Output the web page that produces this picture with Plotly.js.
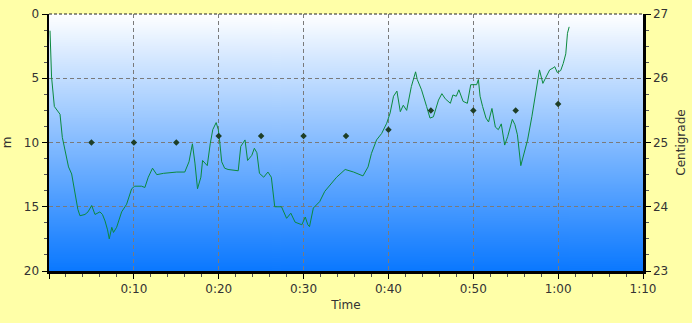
<!DOCTYPE html>
<html>
<head>
<meta charset="utf-8">
<script src="https://cdn.plot.ly/plotly-3.0.1.min.js"></script>
<style>html,body{margin:0;padding:0;background:#FFFFA8;}#chart{width:692px;height:323px;}</style>
</head>
<body>
<div id="chart"></div>
<script>
// Dive time (minutes) and depth (m)
const depthTime = [0.12, 0.3, 0.63, 1.0, 1.3, 1.57, 2.0, 2.3, 2.67, 3.06, 3.4, 3.65, 4.0, 4.24, 4.6, 5.03, 5.42, 6.0, 6.3, 6.6, 6.9, 7.1, 7.4, 7.6, 7.97, 8.56, 9.15, 9.74, 10.1, 10.9, 11.3, 11.7, 12.2, 12.7, 13.5, 15.05, 16.0, 16.5, 16.9, 17.2, 17.5, 17.9, 18.1, 18.4, 18.65, 19.0, 19.3, 19.7, 19.95, 20.1, 20.35, 20.7, 21.1, 22.3, 22.6, 23.1, 23.4, 23.9, 24.2, 24.5, 24.8, 25.3, 25.8, 26.2, 26.6, 27.4, 28.0, 28.5, 29.0, 29.8, 30.2, 30.5, 30.7, 31.15, 31.9, 32.5, 33.3, 33.9, 34.9, 35.9, 37.0, 37.6, 38.0, 38.6, 39.2, 39.8, 40.2, 40.6, 41.0, 41.4, 41.75, 42.15, 42.7, 43.2, 43.4, 43.9, 44.5, 44.9, 45.3, 45.9, 46.3, 46.7, 47.3, 47.6, 48.0, 48.3, 48.8, 49.3, 49.7, 50.0, 50.4, 50.6, 50.8, 51.1, 51.5, 51.8, 52.2, 52.6, 52.95, 53.3, 53.7, 54.05, 54.3, 54.6, 54.9, 55.2, 55.6, 55.9, 56.4, 56.9, 57.3, 57.8, 58.2, 58.65, 59.0, 59.4, 59.6, 59.9, 60.3, 60.6, 60.9, 61.1, 61.3];
const depthM = [1.3, 4.9, 7.2, 7.5, 7.8, 9.6, 11.0, 11.9, 12.45, 14.0, 15.2, 15.7, 15.65, 15.6, 15.4, 14.9, 15.6, 15.4, 15.6, 16.1, 16.8, 17.5, 16.6, 17.0, 16.6, 15.4, 14.8, 13.6, 13.4, 13.4, 13.5, 12.7, 12.0, 12.5, 12.4, 12.3, 12.3, 11.5, 10.1, 11.6, 13.6, 12.7, 11.4, 11.6, 11.8, 10.1, 9.0, 8.45, 9.0, 9.8, 11.5, 12.0, 12.1, 12.2, 10.3, 9.8, 11.4, 11.0, 10.45, 10.8, 12.4, 12.7, 12.3, 12.7, 15.0, 15.0, 15.9, 15.5, 16.2, 16.4, 15.8, 16.4, 16.55, 15.1, 14.6, 13.8, 13.2, 12.7, 12.1, 12.3, 12.6, 11.9, 10.85, 9.8, 9.3, 8.5, 7.7, 6.4, 6.0, 7.6, 7.1, 7.5, 5.65, 4.5, 5.1, 5.9, 7.2, 8.1, 8.0, 6.7, 6.2, 6.6, 6.95, 6.3, 6.4, 5.9, 6.8, 6.95, 5.5, 5.5, 5.5, 5.1, 6.4, 7.2, 8.1, 8.4, 7.35, 8.8, 9.0, 8.55, 10.2, 9.55, 9.0, 8.2, 8.6, 9.4, 11.8, 11.1, 9.8, 8.0, 6.3, 4.35, 5.4, 4.75, 4.35, 4.2, 4.1, 4.55, 4.4, 3.85, 3.1, 1.5, 1.0];

// Temperature samples (minutes, °C)
const tempTime = [5, 10, 15, 20, 25, 30, 35, 40, 45, 50, 55, 60];
const tempC = [25.0, 25.0, 25.0, 25.1, 25.1, 25.1, 25.1, 25.2, 25.5, 25.5, 25.5, 25.6];

// Axis ticks
const xTickVals = [0, 10, 20, 30, 40, 50, 60, 70];
const xTickText = ['', '0:10', '0:20', '0:30', '0:40', '0:50', '1:00', '1:10'];

// gradient background
const cv = document.createElement('canvas');
cv.width = 4; cv.height = 256;
const ctx = cv.getContext('2d');
const g = ctx.createLinearGradient(0, 0, 0, 256);
g.addColorStop(0, '#FFFFFF');
g.addColorStop(1, '#0A78FF');
ctx.fillStyle = g; ctx.fillRect(0, 0, 4, 256);
const bgUrl = cv.toDataURL('image/png');

const font = {family: 'DejaVu Sans, Verdana, sans-serif', size: 12, color: '#333'};

const traces = [
  {x: depthTime, y: depthM, type: 'scatter', mode: 'lines', line: {color: '#0B8A3E', width: 1}, xaxis: 'x', yaxis: 'y', hoverinfo: 'skip'},
  {x: tempTime, y: tempC, type: 'scatter', mode: 'markers', marker: {symbol: 'diamond', size: 5, color: '#1E3E26'}, xaxis: 'x', yaxis: 'y2', hoverinfo: 'skip'}
];

const gridDash = '4px,3px';

const layout = {
  width: 692, height: 323,
  margin: {l: 49, r: 49, t: 14, b: 52, pad: 0},
  paper_bgcolor: '#FFFFA8',
  plot_bgcolor: 'rgba(0,0,0,0)',
  showlegend: false,
  font: font,
  images: [{source: bgUrl, xref: 'paper', yref: 'paper', x: 0, y: 1, sizex: 1, sizey: 1, sizing: 'stretch', layer: 'below', xanchor: 'left', yanchor: 'top'}],
  xaxis: {
    range: [0, 70], tickvals: xTickVals, ticktext: xTickText,
    showgrid: true, gridcolor: '#7A7A7A', griddash: gridDash, gridwidth: 1,
    showline: true, linecolor: '#000', linewidth: 2.5,
    ticks: 'outside', ticklen: 5, tickcolor: '#000',
    minor: {dtick: 2, ticks: 'outside', ticklen: 3, tickcolor: '#555', showgrid: false},
    zeroline: false,
    title: {text: 'Time', font: font, standoff: 6},
    tickfont: font
  },
  yaxis: {
    range: [20, 0], tickvals: [0, 5, 10, 15, 20],
    showgrid: true, gridcolor: '#7A7A7A', griddash: gridDash, gridwidth: 1,
    showline: true, linecolor: '#000', linewidth: 2.5,
    ticks: 'outside', ticklen: 5, tickcolor: '#000',
    minor: {dtick: 1.25, ticks: 'outside', ticklen: 3, tickcolor: '#555', showgrid: false},
    zeroline: false,
    title: {text: 'm', font: font, standoff: 14},
    tickfont: font
  },
  yaxis2: {
    overlaying: 'y', side: 'right', range: [23, 27], tickvals: [23, 24, 25, 26, 27],
    showgrid: false, showline: true, linecolor: '#000', linewidth: 2.5,
    ticks: 'outside', ticklen: 5, tickcolor: '#000',
    minor: {dtick: 0.25, ticks: 'outside', ticklen: 3, tickcolor: '#555', showgrid: false},
    zeroline: false,
    title: {text: 'Centigrade', font: font, standoff: 10},
    tickfont: font
  },
  shapes: [
    {type: 'line', xref: 'paper', yref: 'paper', x0: 0, x1: 1, y0: 1, y1: 1, line: {color: '#222', width: 1.2, dash: '3px,2px'}}
  ]
};

Plotly.newPlot('chart', traces, layout, {staticPlot: true, displayModeBar: false});
</script>
</body>
</html>
